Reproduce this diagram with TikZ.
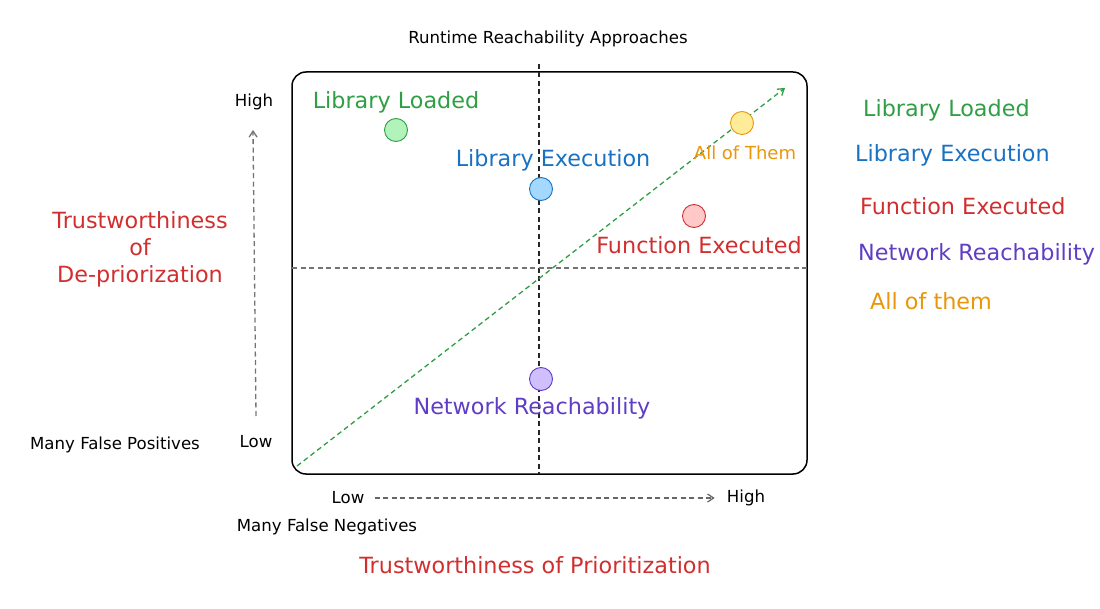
\documentclass[tikz,border=0pt]{standalone}
\usepackage{fontspec}
\setmainfont{DejaVu Sans}
\usetikzlibrary{arrows.meta}
\definecolor{cgreen}{HTML}{2F9E44}
\definecolor{cblue}{HTML}{1971C2}
\definecolor{cred}{HTML}{D12F2F}
\definecolor{cpurple}{HTML}{5F3DC4}
\definecolor{corange}{HTML}{E8960A}
\definecolor{fgreen}{HTML}{B2F2BB}
\definecolor{fblue}{HTML}{A5D8FF}
\definecolor{fred}{HTML}{FFC9C9}
\definecolor{fpurple}{HTML}{D0BFFF}
\definecolor{fyellow}{HTML}{FFEC99}
\tikzset{
  big/.style={font=\fontsize{22.3}{27}\selectfont, inner sep=0pt},
  small/.style={font=\fontsize{16.6}{19}\selectfont, inner sep=0pt, text=black},
  dot/.style={circle, minimum size=23pt, inner sep=0pt, line width=0.9pt},
  dsh/.style={dash pattern=on 5pt off 3.5pt, line width=1.3pt},
  tip/.style={-{Straight Barb[length=6pt,width=8pt]}},
}
\begin{document}
\begin{tikzpicture}[x=1pt,y=-1pt]
\useasboundingbox (0,0) rectangle (1100,609);
% frame
\draw[line width=1.5pt, rounded corners=14pt] (292,72) rectangle (807,474);
\coordinate (vtop) at (539,64);
\coordinate (vbot) at (539,474);
\coordinate (hl) at (292,268);
\coordinate (hr) at (807,268);
\draw[dsh, black!85] (vtop) -- (vbot);
\draw[dsh, black!55] (hl) -- (hr);
\coordinate (dstart) at (297,466);
\coordinate (dend) at (785,88);
\draw[dsh, cgreen, tip] (dstart) -- (dend);
% dots
\node[dot, draw=cgreen, fill=fgreen] (d1) at (396,130) {};
\node[dot, draw=cblue, fill=fblue] (d2) at (541,189) {};
\node[dot, draw=cred, fill=fred] (d3) at (694,216) {};
\node[dot, draw=corange, fill=fyellow] (d4) at (742,123) {};
\node[dot, draw=cpurple, fill=fpurple] (d5) at (541,379) {};
% inside labels
\node[big, text=cgreen] (l1) at (396,102) {Library Loaded};
\node[big, text=cblue] (l2) at (553,160) {Library Execution};
\node[big, text=corange, font=\fontsize{18}{21}\selectfont] (l4) at (745,153) {All of Them};
\node[big, text=cred] (l3) at (699,245) {Function Executed};
\node[big, text=cpurple] (l5) at (532,408) {Network Reachability};
% title
\node[small] (title) at (548,39) {Runtime Reachability Approaches};
% left axis
\node[small] (highL) at (254,102) {High};
\node[small] (lowL) at (256,442) {Low};
\node[small] (mfp) at (115,445) {Many False Positives};
\coordinate (va) at (256,416);
\coordinate (vb) at (253,130);
\draw[dsh, black!55, tip] (va) -- (vb);
\node[big, text=cred, align=center] (ytitle) at (140,249) {Trustworthiness\\of\\De-priorization};
% bottom axis
\node[small] (lowB) at (348,498) {Low};
\node[small] (highB) at (746,498) {High};
\draw[dsh, black!60, tip] ([xshift=10pt]lowB.east) -- ([xshift=-12pt]highB.west);
\node[small] (mfn) at (327,527) {Many False Negatives};
\node[big, text=cred] (xtitle) at (535,565) {Trustworthiness of Prioritization};
% legend
\node[big, text=cgreen, anchor=west] (g1) at (863,110) {Library Loaded};
\node[big, text=cblue, anchor=west] (g2) at (855,155) {Library Execution};
\node[big, text=cred, anchor=west] (g3) at (860,206) {Function Executed};
\node[big, text=cpurple, anchor=west] (g4) at (858,254) {Network Reachability};
\node[big, text=corange, anchor=west] (g5) at (870,301) {All of them};
\end{tikzpicture}
\end{document}
